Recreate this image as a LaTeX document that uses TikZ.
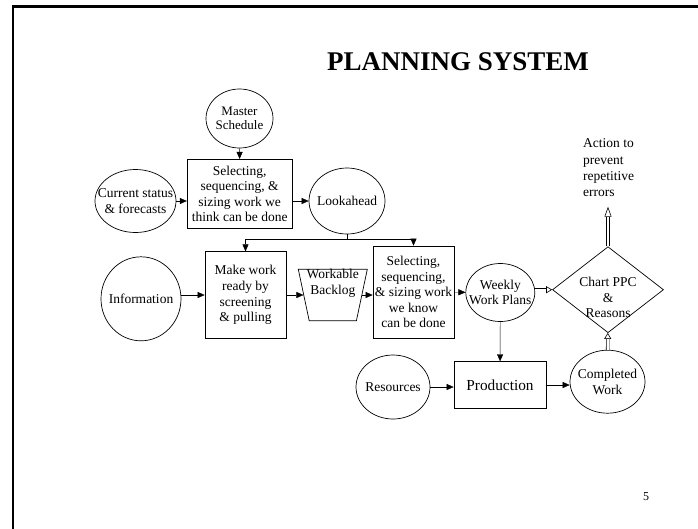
\documentclass[tikz,border=0pt]{standalone}
\usepackage{fontspec}
\setmainfont{Liberation Serif}
\usetikzlibrary{arrows.meta, shapes.geometric}

\begin{document}
\begin{tikzpicture}[x=1pt, y=-1pt, align=center, >={Triangle[length=7pt, width=6pt]},
every node/.style={font=\fontsize{13.5}{15.6}\selectfont},
bubble/.style={ellipse, draw, line width=.7pt, inner xsep=-12pt, inner ysep=-6pt},
task/.style={rectangle, draw, line width=.7pt, inner sep=0pt},
dbl/.style={double, double distance=2.2pt, line width=.6pt, -{Triangle[open, length=6pt, width=7pt]}}]
\useasboundingbox (0,0) rectangle (698,528);
\draw[line width=2.5pt] (13,530) -- (13,6.5) -- (700,6.5);

\path (458,62) node[font=\bfseries\fontsize{27}{30}\selectfont] (title) {PLANNING SYSTEM}
(239.5,118.5) node[bubble, minimum width=67pt, minimum height=59pt, font=\fontsize{13}{14.5}\selectfont] (master) {Master\\Schedule}
(239.7,193.8) node[task, minimum width=105pt, minimum height=69pt] (sel1) {Selecting,\\sequencing, \&\\sizing work we\\think can be done}
(135.5,201) node[bubble, minimum width=81pt, minimum height=63pt] (cur) {Current status\\\& forecasts}
(347,201) node[bubble, minimum width=76pt, minimum height=66pt] (look) {Lookahead}

(141,298.8) node[bubble, minimum width=80pt, minimum height=84pt] (info) {Information}
(245.5,295) node[task, minimum width=81pt, minimum height=86.6pt] (make) {Make work\\ready by\\screening\\\& pulling}
(332.8,295) node[trapezium, draw, line width=.7pt, shape border rotate=180, trapezium stretches=true, trapezium angle=77, minimum width=69pt, minimum height=51.4pt, inner sep=2pt, label={[yshift=11.6pt]center:{Workable\\Backlog}}] (back) {}
(413.5,292) node[task, minimum width=81pt, minimum height=92pt] (sel2) {Selecting,\\sequencing,\\\& sizing work\\we know\\can be done}
(500.3,292.5) node[bubble, minimum width=69pt, minimum height=58pt] (weekly) {Weekly\\Work Plans}
(608,289.7) node[diamond, draw, line width=.7pt, minimum width=111pt, minimum height=86pt, inner sep=2pt, label={[yshift=-8pt]center:{Chart PPC\\\&\\Reasons}}] (chart) {}
(583,168) node[anchor=west, align=left, inner sep=0pt, font=\fontsize{13.5}{16.3}\selectfont] (action) {Action to\\prevent\\repetitive\\errors}

(393,387) node[bubble, minimum width=74pt, minimum height=64pt] (res) {Resources}
(500,385) node[task, minimum width=92pt, minimum height=46.7pt, font=\fontsize{15.3}{18}\selectfont] (prod) {Production}
(607.5,381.7) node[bubble, minimum width=75pt, minimum height=63pt] (comp) {Completed\\Work}
(646,497) node[font=\fontsize{12}{14}\selectfont] (pgnum) {5};
\coordinate (up) at (608,206.7);

\draw[->] (master) -- (sel1);
\draw[->] (cur) -- (cur -| sel1.west);
\draw[->] (sel1.east |- look) -- (look);
\draw (look.south) -- ++(0,4.5) coordinate (fork);
\draw[->] (fork) -| (make.north);
\draw[->] (fork) -| (sel2.north);

\draw[->] (info.east |- make) -- (make);
\draw[->] (make) -- (back);
\draw[->] (back) -- (back -| sel2.west);
\draw[->] (sel2) -- (weekly);
\draw[dbl] (weekly.east |- chart) -- (chart);
\draw[dbl, -{Triangle[open, length=10pt, width=7pt]}] (chart) -- (up);

\draw[->] (weekly) -- (prod);
\draw[->] (res) -- (res -| prod.west);
\draw[->] (prod) -- (prod -| comp.west);
\draw[dbl] (comp) -- (chart);
\end{tikzpicture}
\end{document}
